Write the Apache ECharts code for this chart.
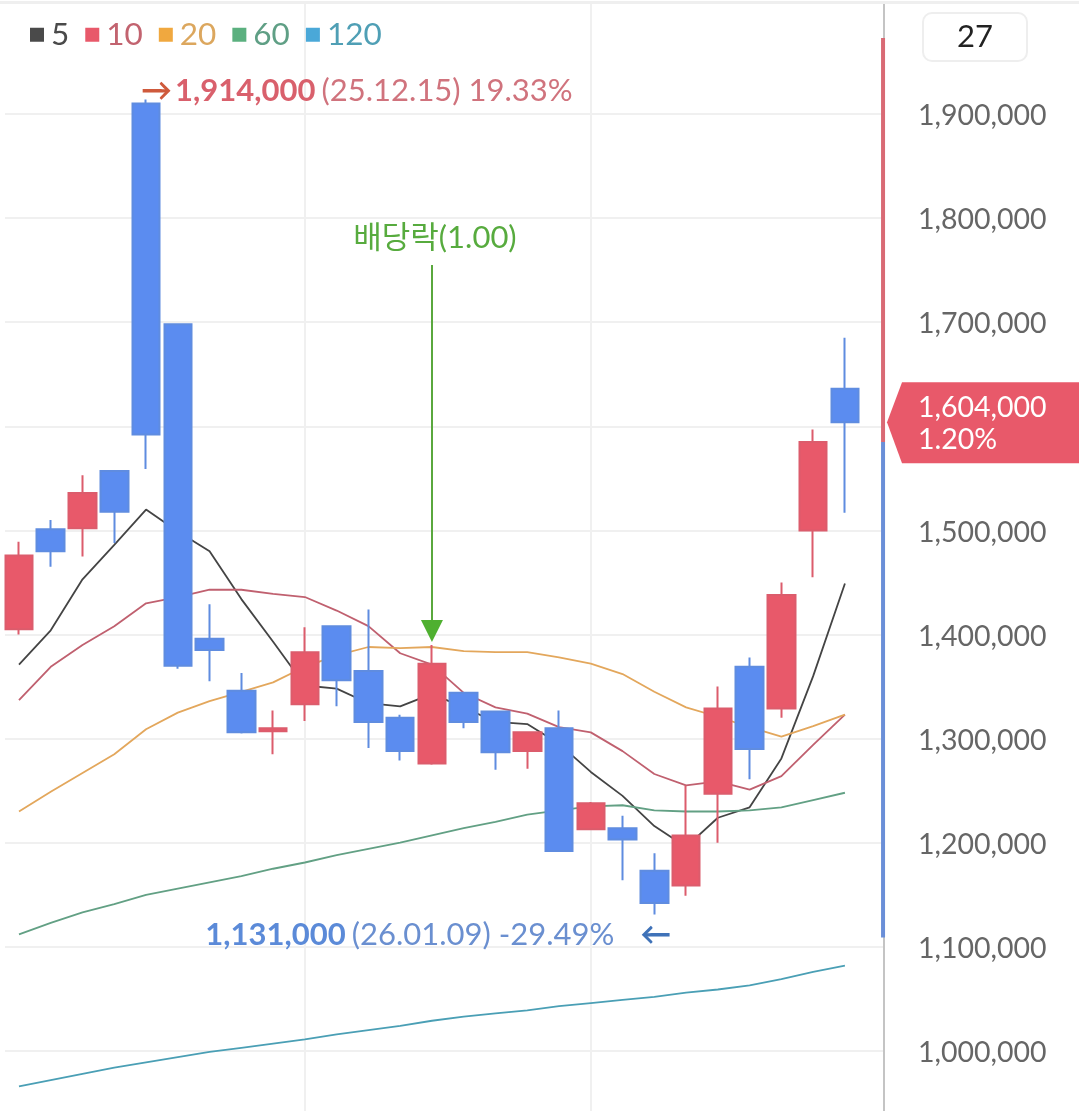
<!DOCTYPE html>
<html>
<head>
<meta charset="utf-8">
<title>chart</title>
<style>
html, body { margin: 0; padding: 0; background: #fff; }
#chart { width: 1079px; height: 1111px; }
</style>
<script src="https://cdn.jsdelivr.net/npm/echarts@6/dist/echarts.min.js"></script>
</head>
<body>
<div id="chart"></div>
<script>
var dates = ['25.12.09', '25.12.10', '25.12.11', '25.12.12', '25.12.15', '25.12.16', '25.12.17', '25.12.18', '25.12.19',
    '25.12.22', '25.12.23', '25.12.24', '25.12.26', '25.12.29', '25.12.30', '26.01.02', '26.01.05', '26.01.06',
    '26.01.07', '26.01.08', '26.01.09', '26.01.12', '26.01.13', '26.01.14', '26.01.15', '26.01.16', '26.01.19'];
var opens = [1405000, 1501000, 1502000, 1557000, 1910000, 1698000, 1396000, 1346000, 1307000,
    1333000, 1408000, 1365000, 1320000, 1276000, 1344000, 1326000, 1288000, 1310000,
    1213000, 1214000, 1173000, 1159000, 1247000, 1369000, 1329000, 1500000, 1636000];
var closes = [1476000, 1480000, 1536000, 1518000, 1592000, 1370000, 1385000, 1306000, 1310000,
    1383000, 1356000, 1316000, 1288000, 1372000, 1316000, 1287000, 1306000, 1192000,
    1238000, 1203000, 1142000, 1207000, 1329000, 1290000, 1438000, 1585000, 1604000];
var lows = [1400000, 1465000, 1475000, 1488000, 1559000, 1367000, 1355000, 1305000, 1285000,
    1317000, 1331000, 1291000, 1279000, 1275000, 1310000, 1270000, 1271000, 1191000,
    1212000, 1164000, 1131000, 1149000, 1200000, 1261000, 1320000, 1455000, 1517000];
var highs = [1489000, 1510000, 1553000, 1558000, 1914000, 1699000, 1429000, 1363000, 1327000,
    1407000, 1409000, 1424000, 1323000, 1390000, 1345000, 1327000, 1307000, 1327000,
    1239000, 1226000, 1190000, 1255000, 1350000, 1378000, 1450000, 1597000, 1685000];
var ma5 = [1371000, 1404000, 1453000, 1486000, 1520000, 1499000, 1480000, 1434000, 1393000,
    1351000, 1348000, 1334000, 1331000, 1343000, 1330000, 1316000, 1314000, 1295000,
    1268000, 1245000, 1216000, 1196000, 1224000, 1234000, 1281000, 1360000, 1449000];
var ma10 = [1337000, 1369000, 1390000, 1408000, 1430000, 1436000, 1443000, 1443000, 1439000,
    1436000, 1423000, 1408000, 1382000, 1371000, 1344000, 1330000, 1324000, 1311000,
    1306000, 1288000, 1266000, 1255000, 1259000, 1251000, 1264000, 1294000, 1323000];
var ma20 = [1230000, 1249000, 1267000, 1285000, 1309000, 1325000, 1336000, 1345000, 1354000,
    1369000, 1380000, 1388000, 1387000, 1388000, 1384000, 1383000, 1383000, 1378000,
    1372000, 1362000, 1345000, 1330000, 1321000, 1311000, 1302000, 1312000, 1323000];
var ma60 = [1112000, 1123000, 1133000, 1141000, 1150000, 1156000, 1162000, 1168000, 1175000,
    1181000, 1188000, 1194000, 1200000, 1207000, 1214000, 1220000, 1227000, 1231000,
    1235000, 1236000, 1231000, 1230000, 1230000, 1231000, 1234000, 1241000, 1248000];
var ma120 = [966000, 972000, 978000, 984000, 989000, 994000, 999000, 1003000, 1007000,
    1011000, 1016000, 1020000, 1024000, 1029000, 1033000, 1036000, 1039000, 1043000,
    1046000, 1049000, 1052000, 1056000, 1059000, 1063000, 1069000, 1076000, 1082000];
var priceTicks = [1000000, 1100000, 1200000, 1300000, 1400000, 1500000, 1600000, 1700000, 1800000, 1900000];
var monthLines = [9, 18];
var upperLimit = 1973000;
var prevClose = 1585000;
var lowerLimit = 1109000;
var lastPrice = '1,604,000';
var lastChange = '1.20%';

var FONT = 'Lato, "Noto Sans CJK KR", sans-serif';
var highIdx = 4, lowIdx = 20, exDivIdx = 13;

function pairs(values) {
    return values.map(function (v, i) { return [i, v]; });
}

// 이평선
function maSeries(name, values, color) {
    return {
        name: name,
        type: 'line',
        data: pairs(values),
        symbol: 'none',
        z: 2,
        lineStyle: {color: color, width: 1.8},
        itemStyle: {color: color}
    };
}

function legendItem(name, icon, text) {
    return {name: name, itemStyle: {color: icon}, textStyle: {color: text}};
}

var chart = echarts.init(document.getElementById('chart'), null, {renderer: 'canvas'});

chart.setOption({
    animation: false,
    backgroundColor: '#fff',
    textStyle: {fontFamily: FONT},
    grid: {left: 5, right: 195, top: 3, bottom: 0},
    legend: {
        left: 25,
        top: 14,
        icon: 'rect',
        itemWidth: 14,
        itemHeight: 14,
        itemGap: 16,
        selectedMode: false,
        textStyle: {fontFamily: FONT, fontSize: 31.5, padding: [0, 0, 0, 2]},
        data: [
            legendItem('5', '#4a4a4a', '#4a4a4a'),
            legendItem('10', '#e8596a', '#c2636f'),
            legendItem('20', '#f0a83f', '#dca75e'),
            legendItem('60', '#5bb07f', '#5f9f85'),
            legendItem('120', '#4aa8d8', '#4f9fb5')
        ]
    },
    xAxis: {
        type: 'value',
        min: -0.44,
        max: 27.23,
        axisLine: {show: false},
        axisLabel: {show: false},
        axisTick: {show: false, customValues: monthLines},
        splitLine: {show: true, lineStyle: {color: '#f0f0f0', width: 2}}
    },
    yAxis: {
        type: 'value',
        position: 'right',
        min: 942300,
        max: 2006600,
        axisLine: {show: true, onZero: false, lineStyle: {color: '#c4c4c4', width: 2}},
        axisTick: {show: false, customValues: priceTicks},
        axisLabel: {
            customValues: priceTicks,
            color: '#666',
            fontSize: 28.5,
            margin: 34,
            verticalAlign: 'top',
            lineHeight: 4,
            fontFamily: FONT
        },
        splitLine: {show: true, lineStyle: {color: '#f0f0f0', width: 2}}
    },
    series: [
        maSeries('5', ma5, '#444444'),
        maSeries('10', ma10, '#c0606f'),
        maSeries('20', ma20, '#e3a75c'),
        maSeries('60', ma60, '#62a084'),
        maSeries('120', ma120, '#4a9fb5'),
        {
            type: 'candlestick',
            z: 3,
            barWidth: 28,
            encode: {x: 0, y: [1, 2, 3, 4]},
            data: dates.map(function (d, i) {
                return [i, opens[i], closes[i], lows[i], highs[i]];
            }),
            itemStyle: {
                color: '#e8596a',
                color0: '#5b8cf0',
                borderColor: '#dc5c6c',
                borderColor0: '#5f8ce0',
                borderWidth: 2
            },
            markLine: {
                silent: true,
                symbol: 'none',
                lineStyle: {color: '#5aa83e', width: 2, type: 'solid'},
                label: {show: false},
                data: [[{coord: [exDivIdx, 1755000]}, {coord: [exDivIdx, 1411000]}]]
            },
            markPoint: {
                silent: true,
                symbol: 'circle',
                symbolSize: 0,
                data: [
                    {
                        coord: [exDivIdx, 1403400],
                        symbol: 'triangle',
                        symbolSize: 22,
                        symbolRotate: 180,
                        itemStyle: {color: '#4fb030'},
                        label: {show: false}
                    },
                    {
                        coord: [highIdx, highs[highIdx]],
                        label: {
                            show: true,
                            position: 'right',
                            offset: [-10, -8],
                            formatter: '{a|→} {b|1,914,000} {c|(' + dates[highIdx] + ') 19.33%}',
                            rich: {
                                a: {color: '#cf5a3c', fontSize: 31, fontWeight: 'bold', fontFamily: FONT},
                                b: {color: '#d9606c', fontSize: 31, fontWeight: 'bold', fontFamily: FONT, padding: [0, 3, 0, 0]},
                                c: {color: '#d0737d', fontSize: 31, fontFamily: FONT}
                            }
                        }
                    },
                    {
                        coord: [lowIdx, lows[lowIdx]],
                        label: {
                            show: true,
                            position: 'left',
                            offset: [22, 20],
                            formatter: '{b|1,131,000} {c|(' + dates[lowIdx] + ') -29.49%}{d|}{a|←}',
                            rich: {
                                a: {color: '#3f72b8', fontSize: 31, fontWeight: 'bold', fontFamily: FONT},
                                b: {color: '#5b8ad8', fontSize: 31, fontWeight: 'bold', fontFamily: FONT, padding: [0, 3, 0, 0]},
                                c: {color: '#6a8fd0', fontSize: 31, fontFamily: FONT},
                                d: {width: 26}
                            }
                        }
                    },
                    {
                        coord: [exDivIdx, 1755000],
                        label: {
                            show: true,
                            position: 'top',
                            distance: 11,
                            offset: [3, 0],
                            formatter: '배당락(1.00)',
                            color: '#57ab3e',
                            fontSize: 31,
                            fontFamily: FONT
                        }
                    }
                ]
            }
        },
        // 상한 하한 게이지
        {
            type: 'line',
            z: 4,
            clip: false,
            symbol: 'none',
            data: [[27.2, upperLimit], [27.2, prevClose]],
            lineStyle: {color: '#d96a75', width: 4}
        },
        {
            type: 'line',
            z: 4,
            clip: false,
            symbol: 'none',
            data: [[27.2, prevClose], [27.2, lowerLimit]],
            lineStyle: {color: '#6a8fd8', width: 4}
        }
    ]
});

var tagY = chart.convertToPixel({yAxisIndex: 0}, closes[closes.length - 1]);

chart.setOption({
    graphic: [
        {
            type: 'rect',
            z: 10,
            shape: {x: 0, y: 1, width: 1079, height: 3},
            style: {fill: '#efefef'}
        },
        {
            type: 'rect',
            z: 10,
            shape: {x: 923, y: 13, width: 104, height: 48, r: 9},
            style: {fill: '#fff', stroke: '#eeeeee', lineWidth: 2}
        },
        {
            type: 'text',
            z: 11,
            style: {x: 975, y: 37, text: '27', fill: '#222', font: '31px ' + FONT, align: 'center', verticalAlign: 'middle'}
        },
        {
            type: 'polygon',
            z: 10,
            shape: {points: [[887, tagY], [902, tagY - 40], [1079, tagY - 40], [1079, tagY + 41], [902, tagY + 41]]},
            style: {fill: '#e8596a'}
        },
        {
            type: 'text',
            z: 11,
            style: {x: 918, y: tagY - 14, text: lastPrice, fill: '#fff', font: '28.5px ' + FONT, verticalAlign: 'middle'}
        },
        {
            type: 'text',
            z: 11,
            style: {x: 918, y: tagY + 18, text: lastChange, fill: '#fff', font: '28.5px ' + FONT, verticalAlign: 'middle'}
        }
    ]
});
</script>
</body>
</html>
